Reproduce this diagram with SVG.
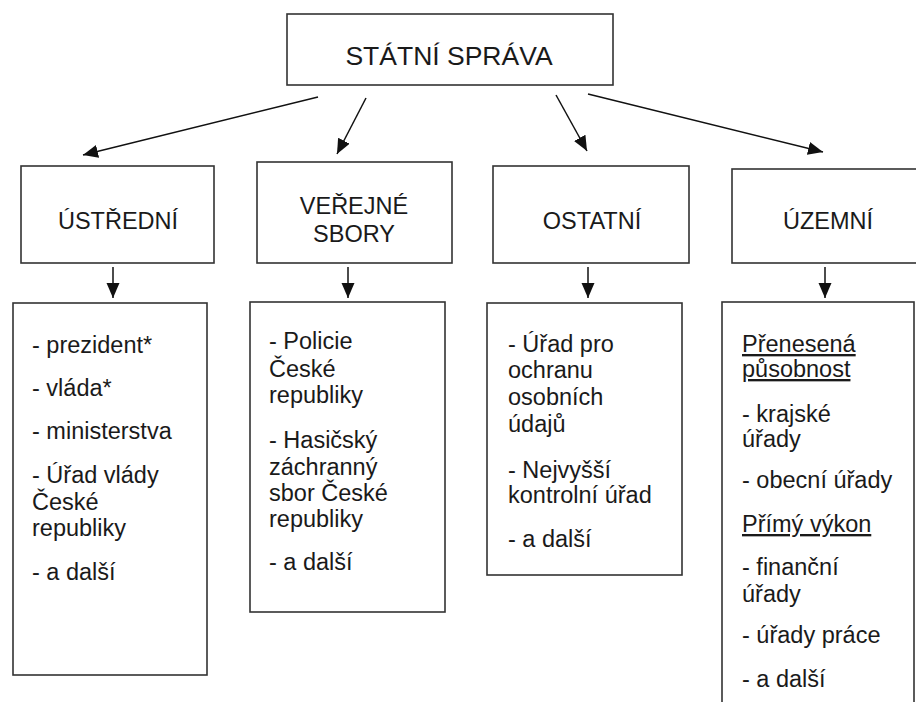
<svg xmlns="http://www.w3.org/2000/svg" width="916" height="702" viewBox="0 0 916 702">
  <style>
    .box { fill: #ffffff; stroke: #333333; stroke-width: 1.6; }
    .lbl { font-family: "Liberation Sans", Arial, sans-serif; font-size: 23.5px; fill: #1a1a1a; }
    .ttl { font-family: "Liberation Sans", Arial, sans-serif; font-size: 26.5px; fill: #1a1a1a; }
    .mid { text-anchor: middle; }
    .ul { text-decoration: underline; }
    .con { stroke: #111111; stroke-width: 1.5; fill: none; marker-end: url(#head); }
  </style>
  <defs>
    <marker id="head" markerUnits="userSpaceOnUse" markerWidth="16" markerHeight="14" refX="15" refY="6.5" orient="auto">
      <path d="M0,0 L15,6.5 L0,13 z" fill="#111111"/>
    </marker>
  </defs>
  <rect width="916" height="702" fill="#ffffff"/>

  <g id="connectors">
    <line class="con" x1="318" y1="97" x2="83" y2="155"/>
    <line class="con" x1="366" y1="98" x2="337" y2="154"/>
    <line class="con" x1="556" y1="95" x2="587" y2="151"/>
    <line class="con" x1="588" y1="94" x2="823" y2="152"/>
    <line class="con" x1="113" y1="267" x2="113" y2="298"/>
    <line class="con" x1="348" y1="267" x2="348" y2="298"/>
    <line class="con" x1="588" y1="267" x2="588" y2="298"/>
    <line class="con" x1="825" y1="267" x2="825" y2="298"/>
  </g>

  <g id="statni-sprava">
    <rect class="box" x="287" y="14" width="326" height="71"/>
    <text class="ttl mid" x="449" y="65">STÁTNÍ SPRÁVA</text>
  </g>

  <g id="ustredni">
    <rect class="box" x="21" y="166" width="193" height="97"/>
    <text class="lbl mid" x="118" y="229">ÚSTŘEDNÍ</text>
  </g>

  <g id="verejne-sbory">
    <rect class="box" x="257" y="162" width="195" height="101"/>
    <text class="lbl mid" x="354" y="214">VEŘEJNÉ</text>
    <text class="lbl mid" x="354" y="242">SBORY</text>
  </g>

  <g id="ostatni">
    <rect class="box" x="493" y="166" width="196" height="97"/>
    <text class="lbl mid" x="592" y="229">OSTATNÍ</text>
  </g>

  <g id="uzemni">
    <rect class="box" x="732" y="169" width="200" height="94"/>
    <text class="lbl mid" x="828" y="229">ÚZEMNÍ</text>
  </g>

  <g id="ustredni-seznam">
    <rect class="box" x="13" y="303" width="194" height="372"/>
    <text class="lbl" x="32" y="353">- prezident*</text>
    <text class="lbl" x="32" y="396">- vláda*</text>
    <text class="lbl" x="32" y="439">- ministerstva</text>
    <text class="lbl" x="32" y="483">- Úřad vlády</text>
    <text class="lbl" x="32" y="510">České</text>
    <text class="lbl" x="32" y="536">republiky</text>
    <text class="lbl" x="32" y="580">- a další</text>
  </g>

  <g id="verejne-sbory-seznam">
    <rect class="box" x="250" y="302" width="195" height="310"/>
    <text class="lbl" x="269" y="349">- Policie</text>
    <text class="lbl" x="269" y="377">České</text>
    <text class="lbl" x="269" y="403">republiky</text>
    <text class="lbl" x="269" y="448">- Hasičský</text>
    <text class="lbl" x="269" y="475">záchranný</text>
    <text class="lbl" x="269" y="501">sbor České</text>
    <text class="lbl" x="269" y="527">republiky</text>
    <text class="lbl" x="269" y="570">- a další</text>
  </g>

  <g id="ostatni-seznam">
    <rect class="box" x="487" y="303" width="195" height="272"/>
    <text class="lbl" x="508" y="352">- Úřad pro</text>
    <text class="lbl" x="508" y="378">ochranu</text>
    <text class="lbl" x="508" y="405">osobních</text>
    <text class="lbl" x="508" y="432">údajů</text>
    <text class="lbl" x="508" y="478">- Nejvyšší</text>
    <text class="lbl" x="508" y="503">kontrolní úřad</text>
    <text class="lbl" x="508" y="547">- a další</text>
  </g>

  <g id="uzemni-seznam">
    <rect class="box" x="722" y="302" width="192" height="420"/>
    <text class="lbl ul" x="742" y="352">Přenesená</text>
    <text class="lbl ul" x="742" y="377">působnost</text>
    <text class="lbl" x="742" y="422">- krajské</text>
    <text class="lbl" x="742" y="447">úřady</text>
    <text class="lbl" x="742" y="488">- obecní úřady</text>
    <text class="lbl ul" x="742" y="532">Přímý výkon</text>
    <text class="lbl" x="742" y="575">- finanční</text>
    <text class="lbl" x="742" y="602">úřady</text>
    <text class="lbl" x="742" y="643">- úřady práce</text>
    <text class="lbl" x="742" y="687">- a další</text>
  </g>
</svg>
